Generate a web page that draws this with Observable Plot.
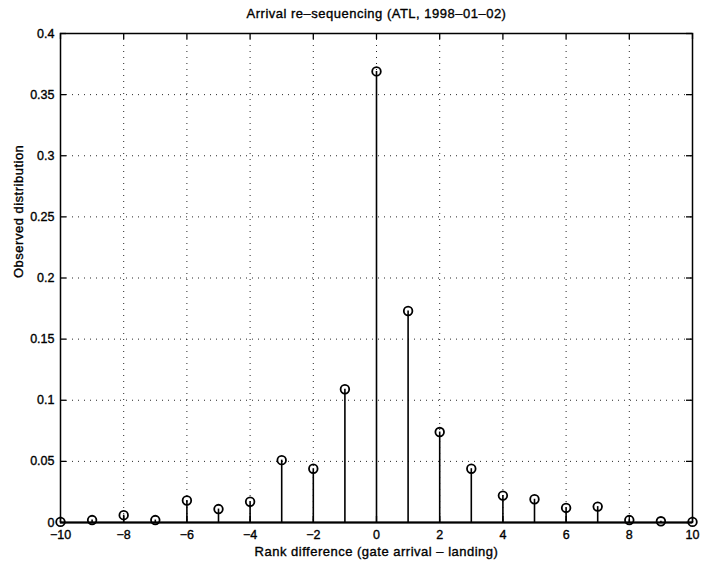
<!DOCTYPE html>
<html>
<head>
<meta charset="utf-8">
<script src="https://cdn.jsdelivr.net/npm/d3@7"></script>
<script src="https://cdn.jsdelivr.net/npm/@observablehq/plot@0.6"></script>
<style>
  html, body { margin: 0; padding: 0; background: #fff; }
  svg { display: block; }
  svg text { stroke: black; stroke-width: 0.35px; }
</style>
</head>
<body>
<div id="chart"></div>
<script>
const titleText = "Arrival re\u2013sequencing (ATL, 1998\u201301\u201302)";
const xLabelText = "Rank difference (gate arrival \u2013 landing)";
const yLabelText = "Observed distribution";

const rankDiff = [-10, -9, -8, -7, -6, -5, -4, -3, -2, -1, 0, 1, 2, 3, 4, 5, 6, 7, 8, 9, 10];
const observed = [0.0005, 0.002, 0.006, 0.002, 0.018, 0.011, 0.017, 0.051, 0.044, 0.109, 0.369, 0.173, 0.074, 0.044, 0.022, 0.019, 0.012, 0.013, 0.002, 0.001, 0.0005];

const xTicks = [-10, -8, -6, -4, -2, 0, 2, 4, 6, 8, 10];
const xTickLabels = ["\u221210", "\u22128", "\u22126", "\u22124", "\u22122", "0", "2", "4", "6", "8", "10"];
const yTicks = [0, 0.05, 0.1, 0.15, 0.2, 0.25, 0.3, 0.35, 0.4];
const yTickLabels = ["0", "0.05", "0.1", "0.15", "0.2", "0.25", "0.3", "0.35", "0.4"];

const data = rankDiff.map((r, i) => ({r, v: observed[i]}));
const xInner = xTicks.slice(1, -1);
const yInner = yTicks.slice(1, -1);
const xDomain = [-10, 10];
const yDomain = [0, 0.4];
const tickLenY = (yDomain[1] - yDomain[0]) * 6 / 489;
const tickLenX = (xDomain[1] - xDomain[0]) * 6 / 632;

const font = "Liberation Sans, Arial, Helvetica, sans-serif";

const chart = Plot.plot({
  width: 701,
  height: 562,
  marginLeft: 60,
  marginRight: 9,
  marginTop: 33,
  marginBottom: 40,
  style: {fontFamily: font, fontSize: "12px", color: "black", background: "white"},
  x: {domain: xDomain, ticks: xTicks, tickFormat: (d) => xTickLabels[xTicks.indexOf(d)], label: null},
  y: {domain: yDomain, ticks: yTicks, tickFormat: (d) => yTickLabels[yTicks.indexOf(d)], label: null},
  marks: [
    Plot.gridX(xInner, {stroke: "black", strokeOpacity: 0.85, strokeWidth: 1, strokeDasharray: "1,5"}),
    Plot.gridY(yInner, {stroke: "black", strokeOpacity: 0.85, strokeWidth: 1, strokeDasharray: "1,5"}),
    Plot.axisX(xTicks, {tickSize: 0, tickPadding: 8, fontSize: 12.5, tickFormat: (d) => xTickLabels[xTicks.indexOf(d)]}),
    Plot.axisY(yTicks, {tickSize: 0, tickPadding: 6, fontSize: 12.5, tickFormat: (d) => yTickLabels[yTicks.indexOf(d)]}),
    // inward ticks (MATLAB style)
    Plot.ruleX(xTicks, {x: (d) => d, y1: yDomain[0], y2: yDomain[0] + tickLenY, stroke: "black", strokeWidth: 1.3}),
    Plot.ruleX(xTicks, {x: (d) => d, y1: yDomain[1], y2: yDomain[1] - tickLenY, stroke: "black", strokeWidth: 1.3}),
    Plot.ruleY(yTicks, {y: (d) => d, x1: xDomain[0], x2: xDomain[0] + tickLenX, stroke: "black", strokeWidth: 1.3}),
    Plot.ruleY(yTicks, {y: (d) => d, x1: xDomain[1], x2: xDomain[1] - tickLenX, stroke: "black", strokeWidth: 1.3}),
    // baseline
    Plot.ruleY([0], {stroke: "black", strokeWidth: 1.8}),
    // stems
    Plot.ruleX(data, {x: "r", y1: 0, y2: "v", stroke: "black", strokeWidth: 1.6}),
    Plot.dot(data, {x: "r", y: "v", r: 4.3, stroke: "black", strokeWidth: 1.8, fill: "none"}),
    Plot.frame({stroke: "black", strokeWidth: 1.5}),
    // title and axis labels
    Plot.text([titleText], {frameAnchor: "top", dy: -20, lineAnchor: "middle", fontSize: 13, fill: "black", text: (d) => d}),
    Plot.text([xLabelText], {frameAnchor: "bottom", dy: 29, lineAnchor: "middle", fontSize: 13, fill: "black", text: (d) => d}),
    Plot.text([yLabelText], {frameAnchor: "left", dx: -42, rotate: -90, lineAnchor: "middle", fontSize: 13, fill: "black", text: (d) => d})
  ]
});

chart.querySelectorAll("text").forEach((t) => {
  const s = t.textContent || "";
  if (s.length > 10) t.setAttribute("letter-spacing", "0.5");
});
document.getElementById("chart").appendChild(chart);
</script>
</body>
</html>
